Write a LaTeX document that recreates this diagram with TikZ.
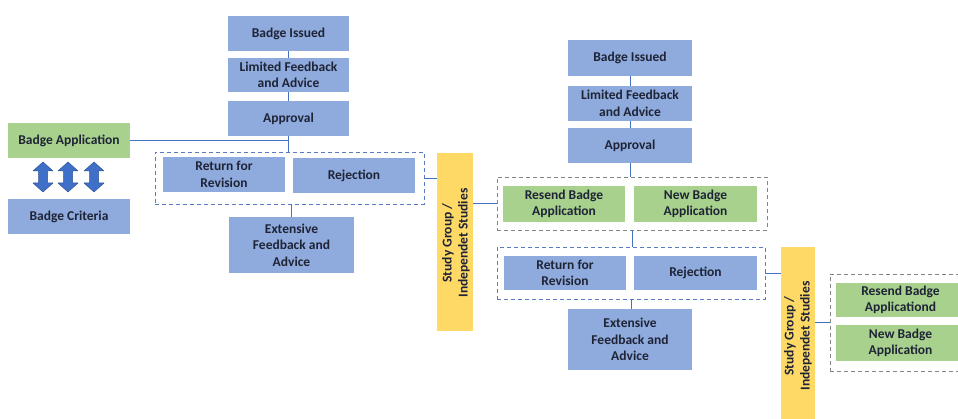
\documentclass[tikz,border=0pt]{standalone}
\usepackage{fontspec}
\setmainfont{Carlito}
\definecolor{boxblue}{HTML}{8FAADC}
\definecolor{boxgreen}{HTML}{A9D18E}
\definecolor{boxyellow}{HTML}{FFD966}
\definecolor{linkblue}{HTML}{4472C4}
\definecolor{arrowblue}{HTML}{3F6FC8}
\definecolor{arrowedge}{HTML}{2F5597}
\definecolor{dashgray}{HTML}{7F8A7F}
\definecolor{dashblue}{HTML}{5B7BC0}
\definecolor{txt}{HTML}{1E2436}
\tikzset{
  bluebox/.style={rectangle, fill=boxblue, draw=none, inner sep=1pt, align=center, text=txt,
    font=\fontsize{13.5}{16.5}\selectfont\bfseries},
  greenbox/.style={bluebox, fill=boxgreen},
  yellowbox/.style={rectangle, fill=boxyellow, draw=none, inner sep=0pt, align=center, text=txt,
    font=\fontsize{13.5}{16}\selectfont\bfseries},
  dashbox/.style={rectangle, draw=dashblue, dashed, dash pattern=on 4pt off 3pt, line width=0.9pt, inner sep=0pt},
  dashgbox/.style={dashbox, draw=dashgray},
  link/.style={draw=linkblue, line width=0.9pt},
  dblarrowshape/.style={fill=arrowblue, draw=arrowedge, line width=0.5pt, line join=round}
}
\begin{document}
\begin{tikzpicture}[x=1pt,y=-1pt]
\useasboundingbox (0,0) rectangle (958,419);
\clip (0,0) rectangle (958,419);
\fill[white] (0,0) rectangle (958,419);

% ---------- left part ----------
\node[bluebox, minimum width=121, minimum height=35] (bi1) at (288.5,33.5) {Badge Issued};
\node[bluebox, minimum width=121, minimum height=34] (lf1) at (288.5,75) {Limited Feedback\\and Advice};
\node[bluebox, minimum width=121, minimum height=35] (ap1) at (288.5,118.5) {Approval};
\node[greenbox, minimum width=122, minimum height=35] (ba) at (69,140.5) {Badge Application};
\node[bluebox, minimum width=122, minimum height=35] (bc) at (69,216.5) {Badge Criteria};
\node[dashbox, minimum width=269, minimum height=52] (d1) at (289.5,178) {};
\node[bluebox, minimum width=122, minimum height=35] (rr1) at (224,174.5) {Return for\\Revision};
\node[bluebox, minimum width=122, minimum height=35] (rj1) at (354,175.5) {Rejection};
\node[bluebox, minimum width=125, minimum height=56] (ef1) at (291.5,245) {Extensive\\Feedback and\\Advice};
\node[yellowbox, minimum width=36, minimum height=178] (sg1) at (455,242) {};
\node[yellowbox, rotate=90] (sg1t) at (456,243) {Study Group /\\Independet Studies};

% double arrows
\foreach \cx in {43,68,94}{
  \draw[dblarrowshape, shift={(\cx,177)}]
    (0,-15) -- (10,-6) -- (4.5,-6) -- (4.5,6) -- (10,6) -- (0,15) -- (-10,6) -- (-4.5,6) -- (-4.5,-6) -- (-10,-6) -- cycle;
}

% ---------- right part ----------
\node[bluebox, minimum width=124, minimum height=36] (bi2) at (630,58) {Badge Issued};
\node[bluebox, minimum width=124, minimum height=35] (lf2) at (630,103.5) {Limited Feedback\\and Advice};
\node[bluebox, minimum width=124, minimum height=35] (ap2) at (630,145.5) {Approval};
\node[dashgbox, minimum width=270, minimum height=53] (d2) at (632,203.5) {};
\node[greenbox, minimum width=122, minimum height=36] (rs2) at (564,204) {Resend Badge\\Application};
\node[greenbox, minimum width=123, minimum height=36] (nb2) at (695.5,204) {New Badge\\Application};
\node[dashbox, minimum width=268, minimum height=52] (d3) at (631,273) {};
\node[bluebox, minimum width=122, minimum height=34] (rr2) at (565,273) {Return for\\Revision};
\node[bluebox, minimum width=123, minimum height=34] (rj2) at (695.5,273) {Rejection};
\node[bluebox, minimum width=124, minimum height=61] (ef2) at (630,339.5) {Extensive\\Feedback and\\Advice};
\node[yellowbox, minimum width=34, minimum height=180] (sg2) at (798,337) {};
\node[yellowbox, rotate=90] (sg2t) at (798,336) {Study Group /\\Independet Studies};
\node[dashgbox, minimum width=160, minimum height=97] (d4) at (910,322.5) {};
\node[greenbox, minimum width=129, minimum height=34] (rs3) at (900.5,300) {Resend Badge\\Applicationd};
\node[greenbox, minimum width=129, minimum height=36] (nb3) at (900.5,343) {New Badge\\Application};

% ---------- connectors ----------
\draw[link] (bi1.south) -- (lf1.north);
\draw[link] (lf1.south) -- (ap1.north);
\draw[link] (ba.east) -| (ap1.south);
\draw[link] (ap1.south) -- (ap1.south |- d1.north);
\draw[link] (ef1.north |- d1.south) -- (ef1.north);
\draw[link] (d1.east) -- (d1.east -| sg1.west);
\draw[link] (d2.west -| sg1.east) -- (d2.west);

\draw[link] (bi2.south) -- (lf2.north);
\draw[link] (lf2.south) -- (ap2.north);
\draw[link] (ap2.south) -- (ap2.south |- d2.north);
\draw[link] (d2.south) -- (d2.south |- d3.north);
\draw[link] (d3.south) -- (d3.south |- ef2.north);
\draw[link] (d3.east) -- (d3.east -| sg2.west);
\draw[link] (d4.west -| sg2.east) -- (d4.west);
\end{tikzpicture}
\end{document}
